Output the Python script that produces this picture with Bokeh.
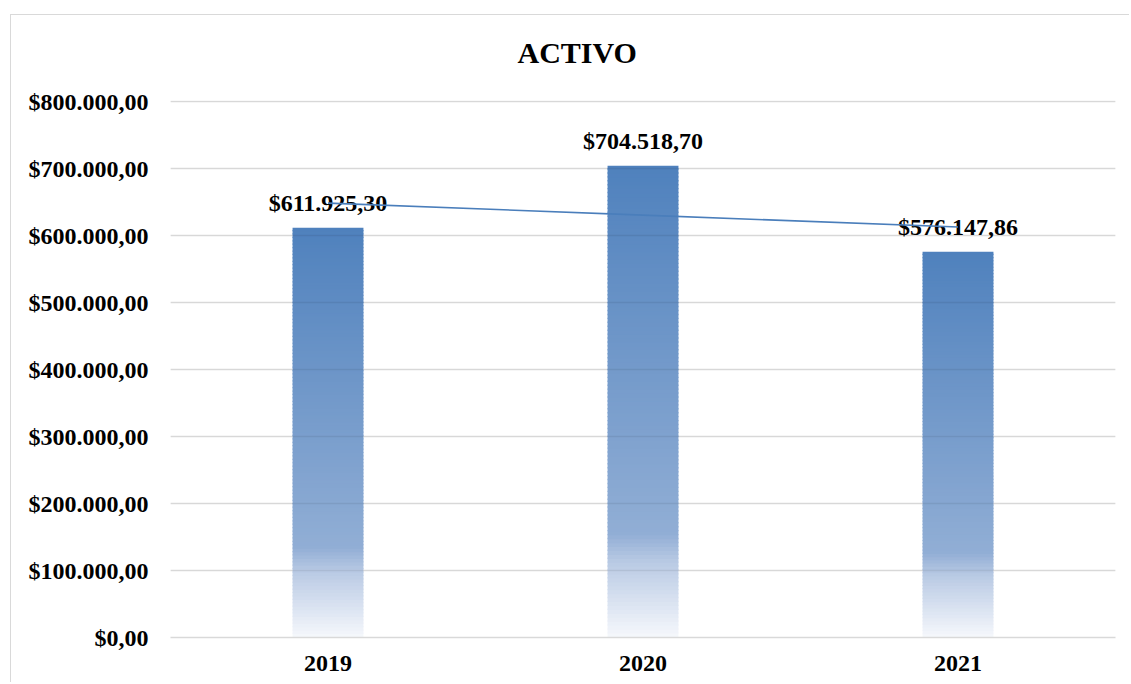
import numpy as np
from bokeh.plotting import figure
from bokeh.models import Range1d, FixedTicker, ColumnDataSource, Label, Grid
from bokeh.core.properties import value
from bokeh.embed import file_html
from bokeh.resources import INLINE

# ---- data ----
title_text = "ACTIVO"
years = ["2019", "2020", "2021"]
activo = [611925.30, 704518.70, 576147.86]
y_ticks = [0, 100000, 200000, 300000, 400000, 500000, 600000, 700000, 800000]
y_tick_labels = ["$0,00", "$100.000,00", "$200.000,00", "$300.000,00", "$400.000,00",
                 "$500.000,00", "$600.000,00", "$700.000,00", "$800.000,00"]
data_labels = ["$611.925,30", "$704.518,70", "$576.147,86"]
y_max = 802000

FONT = value("Liberation Serif")

p = figure(x_range=years, y_range=Range1d(0, y_max),
           width=1119, height=668, output_backend="svg", toolbar_location=None,
           min_border_left=159, min_border_right=15, min_border_top=85, min_border_bottom=46)
p.styles = {"margin-left": "10px", "margin-top": "14px",
            "border-left": "1.5px solid #d9d9d9", "border-top": "1.5px solid #d9d9d9"}
p.outline_line_color = None
p.background_fill_color = "white"
p.border_fill_color = "white"

# title as a label in the area above the plot frame
p.add_layout(Label(x=347, y=48, x_units="screen", y_units="screen", text=title_text,
                   text_font="Liberation Serif", text_font_style="bold", text_font_size="30px",
                   text_color="black", text_align="left", text_baseline="alphabetic"), "above")

# gradient bars: stack thin slices, colour by fraction from the top of each bar
stops = [(0.0, (79, 129, 189)), (0.78, (145, 174, 213)), (0.84, (185, 202, 228)), (1.0, (246, 248, 252))]

def grad(f):
    for (f0, c0), (f1, c1) in zip(stops[:-1], stops[1:]):
        if f <= f1:
            t = (f - f0) / (f1 - f0) if f1 > f0 else 0
            c = [int(round(a + (b - a) * t)) for a, b in zip(c0, c1)]
            return "#%02x%02x%02x" % tuple(c)
    return "#%02x%02x%02x" % stops[-1][1]

N = 120
xs, bots, tops, cols = [], [], [], []
for yr, v in zip(years, activo):
    for i in range(N):
        b = v * i / N
        t = min(v, v * (i + 1) / N + v * 0.003)
        f = 1 - (i + 0.5) / N
        xs.append(yr); bots.append(b); tops.append(t); cols.append(grad(f))
src = ColumnDataSource(dict(x=xs, bottom=bots, top=tops, color=cols))
p.vbar(x="x", bottom="bottom", top="top", width=0.225, fill_color="color",
       line_color=None, source=src)

# data labels
p.text(x=years, y=activo, text=data_labels, text_font=FONT, text_font_style="bold",
       text_font_size="24px", text_align="center", text_baseline="alphabetic",
       y_offset=-25, text_color="black")

# linear trendline
idx = np.arange(1, len(activo) + 1)
m, c = np.polyfit(idx, activo, 1)
trend = list(m * idx + c)
p.line(x=years, y=trend, line_color="#4a7ebb", line_width=1.6)

# axes
p.yaxis.ticker = FixedTicker(ticks=y_ticks)
p.yaxis.major_label_overrides = {t: l for t, l in zip(y_ticks, y_tick_labels)}
p.yaxis.axis_line_color = None
p.yaxis.major_tick_line_color = None
p.yaxis.minor_tick_line_color = None
p.yaxis.major_tick_out = 0
p.yaxis.major_label_standoff = 22
p.yaxis.major_label_text_font = "Liberation Serif"
p.yaxis.major_label_text_font_style = "bold"
p.yaxis.major_label_text_font_size = "24px"
p.yaxis.major_label_text_color = "black"

p.xaxis.axis_line_color = "#d9d9d9"
p.xaxis.axis_line_width = 1.5
p.xaxis.major_tick_line_color = None
p.xaxis.minor_tick_line_color = None
p.xaxis.major_tick_out = 0
p.xaxis.major_label_standoff = 18
p.xaxis.major_label_text_font = "Liberation Serif"
p.xaxis.major_label_text_font_style = "bold"
p.xaxis.major_label_text_font_size = "24px"
p.xaxis.major_label_text_color = "black"

p.xgrid.grid_line_color = None
p.ygrid.grid_line_color = "#e9e9e9"
p.ygrid.grid_line_width = 1.5
# faint gridlines that show through the bars
p.add_layout(Grid(dimension=1, ticker=FixedTicker(ticks=y_ticks), level="overlay",
                  grid_line_color="black", grid_line_alpha=0.07, grid_line_width=1.5))

open("out.html", "w").write(file_html(p, INLINE))
